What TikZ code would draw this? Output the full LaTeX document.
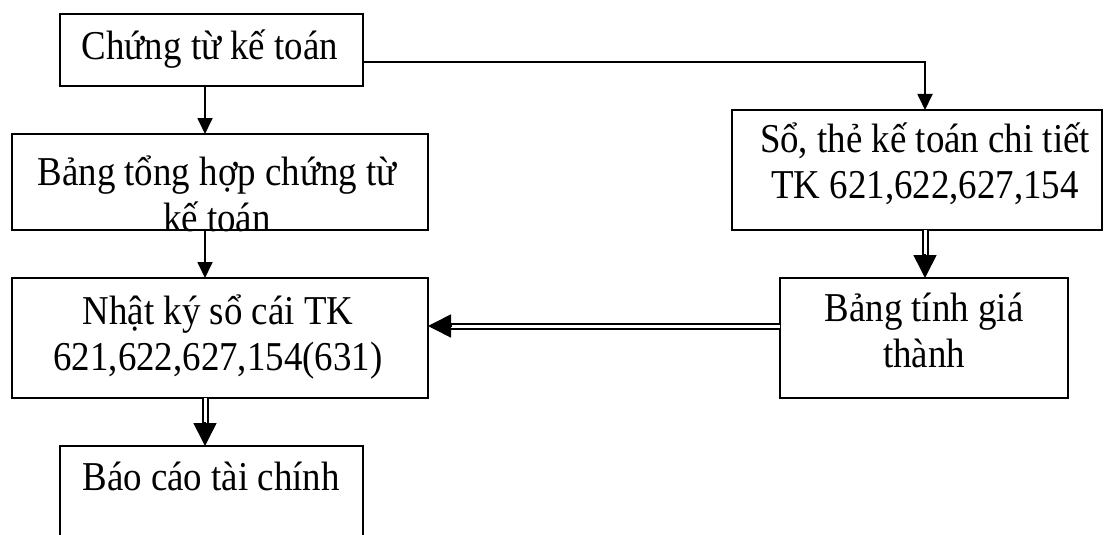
\documentclass[tikz,border=0pt]{standalone}
\usepackage{fontspec}
\setmainfont{Liberation Serif}[FakeStretch=0.9]
\usetikzlibrary{arrows.meta}
\begin{document}
\begin{tikzpicture}[x=1pt,y=-1pt,
  box/.style={draw, line width=1.6pt, inner sep=0pt, outer sep=0pt, anchor=north west},
  lbl/.style={anchor=base, align=center, inner sep=0pt, font=\fontsize{41}{46}\selectfont},
  single/.style={line width=1.8pt, -{Triangle[length=16pt,width=15pt]}},
  dblline/.style={line width=2pt, double, double distance=3pt, shorten >=21pt},
  dbltip/.style={line width=1.6pt, -{Triangle[length=23pt,width=23pt]}}]
\useasboundingbox (0,0) rectangle (1104,535);
\clip (0,0) rectangle (1104,535);

% boxes
\node[box, minimum width=303pt, minimum height=72pt]  (b1) at (60,14)  {};
\node[box, minimum width=416pt, minimum height=96pt]  (b2) at (12,134) {};
\node[box, minimum width=416pt, minimum height=120pt] (b3) at (12,278) {};
\node[box, minimum width=303pt, minimum height=140pt] (b4) at (60,446) {};
\node[box, minimum width=370pt, minimum height=120pt] (b5) at (732,110) {};
\node[box, minimum width=288pt, minimum height=120pt] (b6) at (780,278) {};

% labels (anchored at the baseline of the last line)
\node[lbl] (t1) at (210,60)  {Chứng từ kế toán};
\node[lbl] (t2) at (217,231) {Bảng tổng hợp chứng từ\\kế toán};
\node[lbl] (t3) at (218,370) {Nhật ký sổ cái TK\\621,622,627,154(631)};
\node[lbl] (t4) at (211,490) {Báo cáo tài chính};
\node[lbl] (t5) at (925,198) {Sổ, thẻ kế toán chi tiết\\TK 621,622,627,154};
\node[lbl] (t6) at (924,367) {Bảng tính giá\\thành};

% connectors
\coordinate (colL) at (205,0);
\coordinate (colR) at (925,0);
\draw[single] (b1.south -| colL) -- (b2.north -| colL);
\draw[single] (b2.south -| colL) -- (b3.north -| colL);
\draw[single] ([yshift=-12pt]b1.east) -| (b5.north -| colR);

% double connectors: two-line shaft, then a solid head
\coordinate (d1) at (b4.north -| colL);
\coordinate (d2) at (b6.north -| colR);
\coordinate (d3) at ([yshift=12pt]b3.east);
\draw[dblline] (b3.south -| colL) -- (d1);
\draw[dbltip] ([yshift=24pt]d1) -- (d1);
\draw[dblline] (b5.south -| colR) -- (d2);
\draw[dbltip] ([yshift=24pt]d2) -- (d2);
\draw[dblline] ([yshift=12pt]b6.west) -- (d3);
\draw[dbltip] ([xshift=24pt]d3) -- (d3);
\end{tikzpicture}
\end{document}
